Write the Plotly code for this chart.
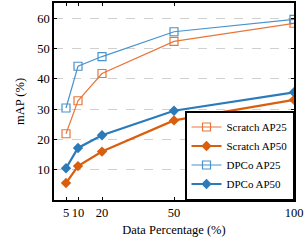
import plotly.graph_objects as go

pct = [5, 10, 20, 50, 100]
scratch_ap25 = [21.9, 32.8, 41.8, 52.4, 58.4]
scratch_ap50 = [5.6, 11.2, 16.0, 26.3, 33.1]
dpco_ap25 = [30.4, 44.2, 47.4, 55.6, 59.7]
dpco_ap50 = [10.5, 17.2, 21.4, 29.5, 35.6]

x_ticks = [5, 10, 20, 50, 100]
y_ticks = [10, 20, 30, 40, 50, 60]

orange_l = "#e8763a"
orange_d = "#d95f0e"
blue_l = "#4a93cc"
blue_d = "#2b7bba"

font = "Liberation Serif"

fig = go.Figure()
fig.add_trace(go.Scatter(x=pct, y=scratch_ap25, name="Scratch AP25", mode="lines+markers",
                         line=dict(color=orange_l, width=1.2),
                         marker=dict(symbol="square-open", size=8, color=orange_l, line=dict(width=1.2))))
fig.add_trace(go.Scatter(x=pct, y=scratch_ap50, name="Scratch AP50", mode="lines+markers",
                         line=dict(color=orange_d, width=2.2),
                         marker=dict(symbol="diamond", size=8, color=orange_d)))
fig.add_trace(go.Scatter(x=pct, y=dpco_ap25, name="DPCo AP25", mode="lines+markers",
                         line=dict(color=blue_l, width=1.2),
                         marker=dict(symbol="square-open", size=8, color=blue_l, line=dict(width=1.2))))
fig.add_trace(go.Scatter(x=pct, y=dpco_ap50, name="DPCo AP50", mode="lines+markers",
                         line=dict(color=blue_d, width=2.2),
                         marker=dict(symbol="diamond", size=8, color=blue_d)))

fig.update_layout(
    width=307, height=240,
    margin=dict(l=54, r=13, t=1, b=40),
    paper_bgcolor="white", plot_bgcolor="white",
    font=dict(family=font, size=12.5, color="black"),
    showlegend=True,
    legend=dict(x=1, y=0, xanchor="right", yanchor="bottom",
                bordercolor="black", borderwidth=1.5, bgcolor="white",
                font=dict(family=font, size=11), tracegroupgap=0,
                itemwidth=30),
)
fig.update_xaxes(range=[0, 100], tickvals=x_ticks, ticktext=[str(v) for v in x_ticks],
                 showgrid=False, zeroline=False, showline=True, linecolor="black", linewidth=1.5,
                 mirror="ticks", ticks="inside", ticklen=3, tickcolor="black",
                 title=dict(text="Data Percentage (%)", standoff=6, font=dict(size=12.5)))
fig.update_yaxes(range=[0, 65.1], tickvals=y_ticks, showgrid=True, gridcolor="#d0d0d0", griddash="dash",
                 gridwidth=1, zeroline=False, showline=True, linecolor="black", linewidth=1.5,
                 mirror="ticks", ticks="inside", ticklen=3, tickcolor="black",
                 title=dict(text="mAP (%)", standoff=10, font=dict(size=12.5)))

fig.write_html("out.html", config={"displayModeBar": False},
               post_script="document.body.style.margin='0';document.body.style.overflow='hidden';")
